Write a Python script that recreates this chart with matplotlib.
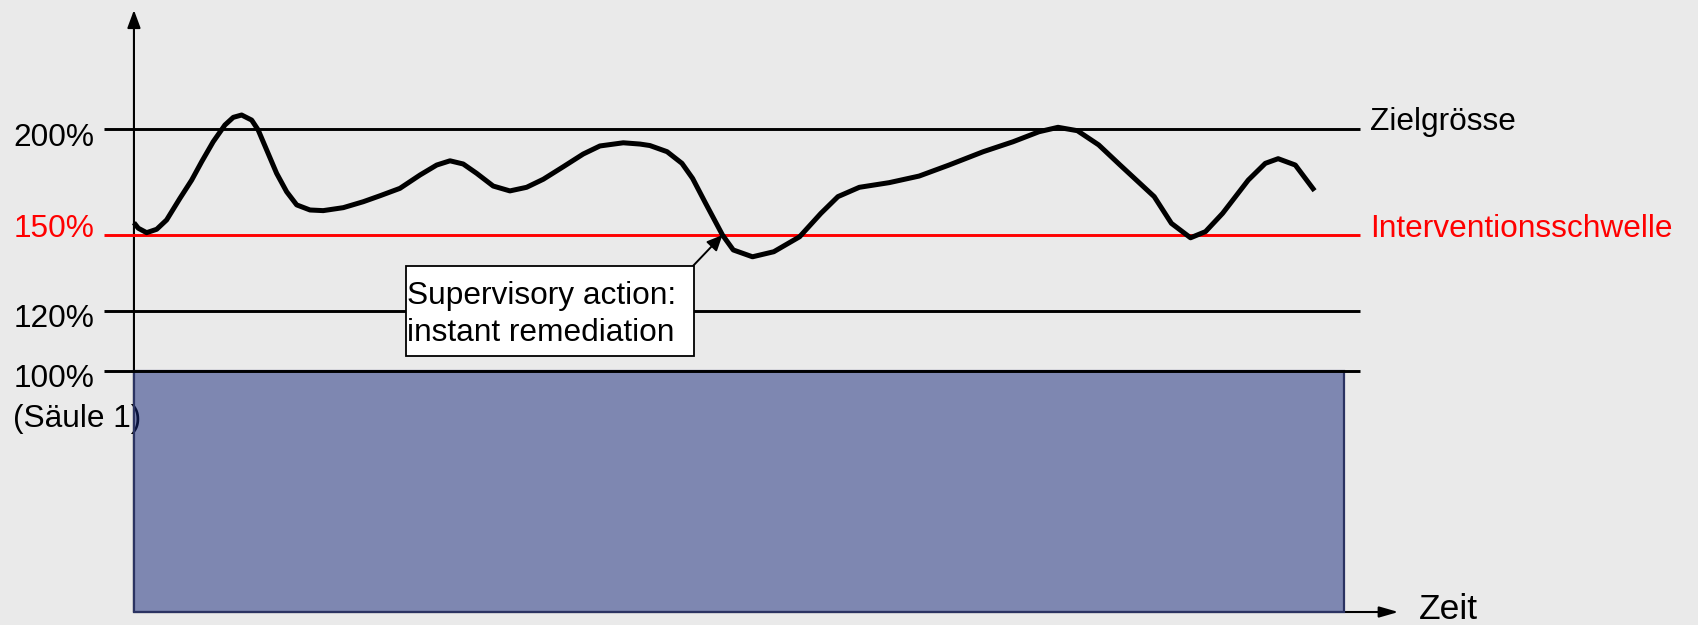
import numpy as np
import matplotlib
matplotlib.use("Agg")
import matplotlib.pyplot as plt
from matplotlib.patches import Rectangle, FancyArrowPatch

plt.rcParams["font.family"] = ["Liberation Sans", "DejaVu Sans"]

# --- data -----------------------------------------------------------------
# capital ratio over time (time in arbitrary units, ratio in %)
time = [0.00, 0.36, 1.05, 1.88, 2.70, 3.80, 4.77, 5.60, 6.55, 7.52, 8.21,
        8.90, 9.73, 10.27, 10.97, 11.79, 12.62, 13.45, 14.55, 15.64, 17.30,
        18.95, 20.33, 21.98, 23.64, 25.02, 26.12, 27.21, 28.32, 29.69, 31.07,
        32.45, 33.83, 35.48, 37.13, 38.51, 40.44, 41.82, 42.64, 44.06, 45.29,
        46.17, 47.24, 48.64, 49.53, 51.12, 52.88, 55.01, 56.77, 58.18, 59.95,
        62.42, 64.89, 67.36, 70.19, 72.66, 74.79, 76.37, 77.97, 79.73, 81.50,
        84.32, 85.74, 87.32, 88.56, 89.97, 92.09, 93.50, 94.56, 95.98, 97.57]
ratio = [155.8, 153.2, 151.1, 152.7, 157.1, 167.3, 175.9, 184.6, 194.0,
         201.9, 205.5, 206.6, 204.2, 199.5, 190.1, 179.1, 170.4, 164.2,
         161.8, 161.5, 162.9, 165.7, 168.5, 172.0, 178.3, 183.0, 185.0,
         183.5, 179.1, 173.1, 170.8, 172.5, 176.3, 182.2, 188.2, 192.0,
         193.5, 192.9, 192.2, 189.3, 183.8, 176.7, 165.0, 150.0, 144.1,
         141.4, 143.4, 149.3, 160.2, 168.1, 172.5, 174.7, 177.8, 183.0,
         189.3, 194.0, 198.7, 200.8, 199.2, 192.5, 183.0, 168.1, 155.5,
         148.9, 151.6, 160.2, 175.9, 183.8, 186.0, 183.0, 170.9]

levels = [200, 150, 120, 100]
level_labels = ["200%", "150%", "120%", "100%"]
level_colors = ["black", "red", "black", "black"]
pillar1 = 100          # minimum requirement (Säule 1)
period = 100           # length of the observed period
intervention_time = 48.64  # first breach of the intervention threshold
intervention_level = 150

# --- schematic (piecewise linear) ratio axis -------------------------------
scale_pct = [-50, 0, 100, 120, 150, 200, 400]
scale_pos = [-120.5, 0, 241, 301, 377, 483, 907]


def fwd(p):
    return np.interp(p, scale_pct, scale_pos)


def inv(y):
    return np.interp(y, scale_pos, scale_pct)


BG = "#eaeaea"
FS = 22.8

fig = plt.figure(figsize=(16.98, 6.25), dpi=100, facecolor=BG)
ax = fig.add_axes([0, 0, 1, 1])
ax.set_facecolor(BG)
ax.set_yscale("function", functions=(fwd, inv))
ax.set_xlim(-11.07, 129.26)
ax.set_ylim(-5.39, 260.85)
ax.axis("off")

# axes with arrow heads
ax.add_patch(FancyArrowPatch((0, 0), (0, 256.1), arrowstyle="-|>,head_length=10.8,head_width=4",
                             mutation_scale=1, lw=1.5, color="black", shrinkA=0, shrinkB=0,
                             zorder=1))
ax.add_patch(FancyArrowPatch((0, 0), (104.5, 0), arrowstyle="-|>,head_length=11.5,head_width=3.3",
                             mutation_scale=1, lw=1.5, color="black", shrinkA=0, shrinkB=0,
                             zorder=1))

# pillar 1 block
ax.bar([0], [pillar1], width=period, align="edge",
       color=(20 / 255, 38 / 255, 122 / 255, 0.5), edgecolor="#2b3362", linewidth=1.6,
       zorder=3)

# reference levels
ax.hlines(levels, -2.48, 101.3, colors=level_colors, linewidth=2.1, zorder=4)

# ratio path
ax.plot(time, ratio, color="black", linewidth=3.6, solid_joinstyle="round",
        solid_capstyle="butt", zorder=5)

# level labels on the left
label_offsets = [-16.7, -1.7, -15.7, -16.3]
for lvl, txt, col, off in zip(levels, level_labels, level_colors, label_offsets):
    ax.annotate(txt, xy=(0.0554, lvl), xycoords=("figure fraction", "data"),
                xytext=(0, off), textcoords="offset pixels",
                ha="right", va="baseline", fontsize=FS, color=col, zorder=2)
ax.annotate("(Säule 1)", xy=(0.0077, 100), xycoords=("figure fraction", "data"),
            xytext=(0, -55.5), textcoords="offset pixels",
            ha="left", va="baseline", fontsize=FS, color="black", zorder=2)

# level names on the right
ax.annotate("Zielgrösse", xy=(0.8068, 200), xycoords=("figure fraction", "data"),
            xytext=(0, -1), textcoords="offset pixels",
            ha="left", va="baseline", fontsize=FS, color="black")
ax.annotate("Interventionsschwelle", xy=(0.8068, 150), xycoords=("figure fraction", "data"),
            xytext=(0, -2), textcoords="offset pixels",
            ha="left", va="baseline", fontsize=FS, color="red")

# time axis label
ax.annotate("Zeit", xy=(0.8357, 0), xycoords=("figure fraction", "data"),
            xytext=(0, -7), textcoords="offset pixels",
            ha="left", va="baseline", fontsize=25.5, color="black")

# call-out box
fig.patches.append(Rectangle((0.2391, 0.4304), 0.1696, 0.144, transform=fig.transFigure,
                             facecolor="white", edgecolor="black", linewidth=1.3,
                             zorder=6))
fig.text(0.2397, 0.5136, "Supervisory action:", ha="left", va="baseline", fontsize=FS,
         zorder=7)
fig.text(0.2397, 0.4544, "instant remediation", ha="left", va="baseline", fontsize=FS,
         zorder=7)
ax.annotate("", xy=(intervention_time, intervention_level), xycoords="data",
            xytext=(0.4081, 0.5744), textcoords="figure fraction",
            arrowprops=dict(arrowstyle="-|>,head_length=9.4,head_width=4.3",
                            mutation_scale=1, lw=1.4, color="black",
                            shrinkA=0, shrinkB=0),
            zorder=7)

fig.savefig("out.png", dpi=100, facecolor=BG)
